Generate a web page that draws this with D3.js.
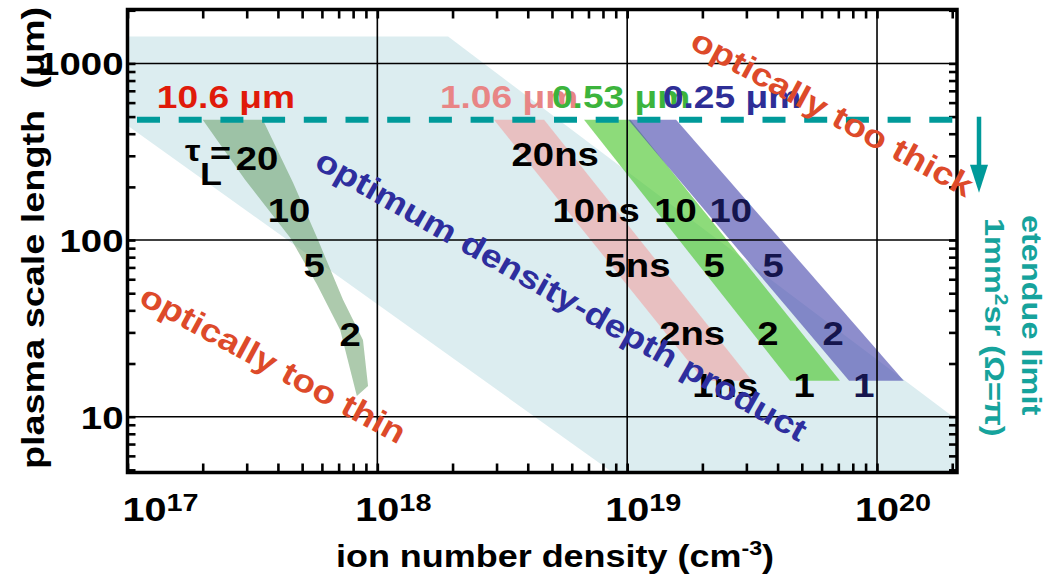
<!DOCTYPE html>
<html>
<head>
<meta charset="utf-8">
<script src="https://cdn.jsdelivr.net/npm/d3@7"></script>
<style>
  body { margin: 0; background: #fff; }
  svg { display: block; }
  text { font-family: "Liberation Sans", Arial, Helvetica, sans-serif; font-weight: bold; }
</style>
</head>
<body>
<div id="chart"></div>
<script>
// ---- data (ion density n in cm^-3, scale length L in um) ----
var xTickValues = [1e17, 1e18, 1e19, 1e20];
var xTickExps = ["17", "18", "19", "20"];
var yTickValues = [10, 100, 1000];
var yTickLabels = ["10", "100", "1000"];

var etendueLimit = 480;

// light blue "optimum density-depth product" region
var optimumRegion = [[1e17, 1420], [1.92e18, 1420], [2.09e20, 9.6], [2.09e20, 4.5], [9.38e18, 4.5], [1e17, 445]];

// 10.6 um band (curved)
var band106 = [[2.0e17, 480], [3.48e17, 480], [4.6e17, 211], [5.74e17, 103], [7.29e17, 45.9], [8.76e17, 27.2],
               [9.18e17, 14.9], [8.28e17, 13.1], [7.1e17, 31], [5.74e17, 55.8], [4.48e17, 103], [2.95e17, 220]];
// 1.06, 0.53, 0.25 um bands
var band1064 = [[2.93e18, 480], [4.65e18, 480], [3.16e19, 16], [2.03e19, 16]];
var band053 = [[6.72e18, 480], [1.03e19, 480], [7.11e19, 16], [4.49e19, 16]];
var band025 = [[1.01e19, 480], [1.57e19, 480], [1.28e20, 16], [7.73e19, 16]];

// pulse length labels [text, n, L]
var labels106 = [["20", 3.30e17, 250], ["10", 4.43e17, 127], ["5", 5.58e17, 62], ["2", 7.78e17, 25.2]];
var labels1064 = [["20ns", 5.15e18, 261], ["10ns", 7.51e18, 127], ["5ns", 1.10e19, 62], ["2ns", 1.82e19, 25.5], ["1ns", 2.47e19, 12.9]];
var labels053 = [["10", 1.56e19, 127], ["5", 2.23e19, 62], ["2", 3.66e19, 25.5], ["1", 5.11e19, 12.9]];
var labels025 = [["10", 2.60e19, 127], ["5", 3.84e19, 62], ["2", 6.67e19, 25.5], ["1", 8.87e19, 12.9]];

var wavelengthNames = ["10.6 \u03bcm", "1.06 \u03bcm", "0.53 \u03bcm", "0.25 \u03bcm"];
var wavelengthN = [1.31e17, 1.78e18, 5.0e18, 1.39e19];
var wavelengthL = 560;

// ---- layout ----
var width = 1054, height = 575;
var pL = 127.5, pR = 957, pT = 9.5, pB = 472.5;
var SX = 1.16; // glyphs in the original are wider than Arial

var x = d3.scaleLog().domain([1e17, 2.09e20]).range([pL, pR]);
var y = d3.scaleLog().domain([4.83, 2020]).range([pB, pT]);

var svg = d3.select("#chart").append("svg")
    .attr("width", width)
    .attr("height", height);

svg.append("clipPath").attr("id", "plotclip")
  .append("rect")
    .attr("x", pL).attr("y", pT)
    .attr("width", pR - pL).attr("height", pB - pT);

function addText(parent, str, px, py, opt) {
    opt = opt || {};
    var tr = "translate(" + px + "," + py + ")";
    if (opt.rotate) tr += " rotate(" + opt.rotate + ")";
    tr += " scale(" + (opt.sx || SX) + ",1)";
    return parent.append("text")
        .attr("transform", tr)
        .attr("text-anchor", opt.anchor || "start")
        .style("font-size", (opt.size || 32) + "px")
        .style("fill", opt.fill || "#000")
        .style("white-space", "pre")
        .text(str);
}

var line = d3.line()
    .x(function(d) { return x(d[0]); })
    .y(function(d) { return y(d[1]); });

var plot = svg.append("g").attr("clip-path", "url(#plotclip)");

// region and bands
plot.append("path").attr("d", line(optimumRegion) + "Z").attr("fill", "#dcedf0");
plot.append("path").attr("d", line(band106) + "Z").attr("fill", "#6a9f6a").attr("fill-opacity", 0.55);
plot.append("path").attr("d", line(band1064) + "Z").attr("fill", "#f29a9a").attr("fill-opacity", 0.55);
plot.append("path").attr("d", line(band053) + "Z").attr("fill", "#50c832").attr("fill-opacity", 0.65);
plot.append("path").attr("d", line(band025) + "Z").attr("fill", "#5050b0").attr("fill-opacity", 0.65);

// grid at decades
svg.append("g").selectAll("line")
    .data(xTickValues.filter(function(d) { return d > 1e17; }))
    .enter().append("line")
    .attr("x1", function(d) { return x(d); }).attr("x2", function(d) { return x(d); })
    .attr("y1", pT).attr("y2", pB)
    .attr("stroke", "#000").attr("stroke-width", 1.6);
svg.append("g").selectAll("line")
    .data(yTickValues)
    .enter().append("line")
    .attr("x1", pL).attr("x2", pR)
    .attr("y1", function(d) { return y(d); }).attr("y2", function(d) { return y(d); })
    .attr("stroke", "#000").attr("stroke-width", 1.6);

// inward tick marks on all four sides
var xt = x.ticks(), yt = y.ticks();
function tickStyle(g) {
    g.select(".domain").remove();
    g.selectAll(".tick line").attr("stroke", "#000").attr("stroke-width", 2.6);
}
svg.append("g").attr("transform", "translate(0," + pT + ")")
    .call(d3.axisTop(x).tickValues(xt).tickSize(-9).tickFormat("")).call(tickStyle);
svg.append("g").attr("transform", "translate(0," + pB + ")")
    .call(d3.axisBottom(x).tickValues(xt).tickSize(-9).tickFormat("")).call(tickStyle);
svg.append("g").attr("transform", "translate(" + pL + ",0)")
    .call(d3.axisLeft(y).tickValues(yt).tickSize(-8).tickFormat("")).call(tickStyle);
svg.append("g").attr("transform", "translate(" + pR + ",0)")
    .call(d3.axisRight(y).tickValues(yt).tickSize(-8).tickFormat("")).call(tickStyle);

// etendue limit dashed line
svg.append("line")
    .attr("x1", pL + 9.5).attr("x2", pR)
    .attr("y1", y(etendueLimit)).attr("y2", y(etendueLimit))
    .attr("stroke", "#009a9a").attr("stroke-width", 6)
    .attr("stroke-dasharray", "23,18.7");

// frame
svg.append("rect")
    .attr("x", pL).attr("y", pT)
    .attr("width", pR - pL).attr("height", pB - pT)
    .attr("fill", "none").attr("stroke", "#000").attr("stroke-width", 3.5);

// wavelength labels
var wlColors = ["#e01a0a", "#e88585", "#3cb43c", "#2e2e96"];
wavelengthNames.forEach(function(s, i) {
    addText(svg, s, x(wavelengthN[i]), y(wavelengthL), { size: 32, fill: wlColors[i] });
});

// pulse length labels
function drawLabels(arr, color) {
    arr.forEach(function(d) {
        addText(svg, d[0], x(d[1]), y(d[2]), { size: 33, fill: color, anchor: "middle" });
    });
}
drawLabels(labels106, "#000");
drawLabels(labels1064, "#000");
drawLabels(labels053, "#000");
drawLabels(labels025, "#15154d");

// tau_L = label in front of the first "20"
var tx = x(labels106[0][1]), ty = y(labels106[0][2]);
addText(svg, "\u03c4", tx - 72, ty - 9, { size: 30 });
addText(svg, "L", tx - 57, ty + 15, { size: 31 });
addText(svg, "=", tx - 47, ty - 6, { size: 31 });

// diagonal annotations
addText(svg, "optically too thin", x(3.65e17), y(17.5), { size: 32, fill: "#dd4a2a", anchor: "middle", rotate: 28.5 });
addText(svg, "optically too thick", x(6.31e19), y(463), { size: 32, fill: "#dd4a2a", anchor: "middle", rotate: 28.5 });
addText(svg, "optimum density-depth product", x(5.19e18), y(43), { size: 32, fill: "#2e2e9e", anchor: "middle", rotate: 29.5 });

// arrow and etendue note on the right
var ax = pR + 22, ay = y(etendueLimit);
svg.append("line").attr("x1", ax).attr("x2", ax).attr("y1", ay - 3).attr("y2", ay + 48)
    .attr("stroke", "#009a9a").attr("stroke-width", 4.5);
svg.append("path")
    .attr("d", "M" + (ax - 9) + "," + (ay + 45) + "L" + (ax + 9) + "," + (ay + 45) + "L" + ax + "," + (ay + 73) + "Z")
    .attr("fill", "#009a9a");
addText(svg, "etendue limit", pR + 65, 215, { size: 28, fill: "#16a39c", rotate: 90 });
var t2 = addText(svg, "1mm", pR + 28, 218, { size: 28, fill: "#16a39c", rotate: 90 });
t2.append("tspan").attr("dy", -10).style("font-size", "18px").text("2");
t2.append("tspan").attr("dy", 10).text("sr (\u03a9=\u03c0)");

// tick labels
xTickValues.forEach(function(v, i) {
    var px = Math.max(x(v) - 22, pL - 5);
    var t = addText(svg, "10", px, 521, { size: 33, sx: 1.2 });
    t.append("tspan").attr("dy", -10).style("font-size", "24px").text(xTickExps[i]);
});
yTickValues.forEach(function(v, i) {
    addText(svg, yTickLabels[i], pL - 4, y(v) + 12, { size: 32, anchor: "end", sx: 1.2 });
});

// axis titles
var xt1 = addText(svg, "ion number density (cm", 555, 567, { size: 31, anchor: "middle" });
xt1.append("tspan").attr("dy", -12).style("font-size", "20px").text("-3");
xt1.append("tspan").attr("dy", 12).text(")");
addText(svg, "plasma scale length  (\u03bcm)", 44, 238, { size: 31, anchor: "middle", rotate: -90, sx: 1.22 });
</script>
</body>
</html>
